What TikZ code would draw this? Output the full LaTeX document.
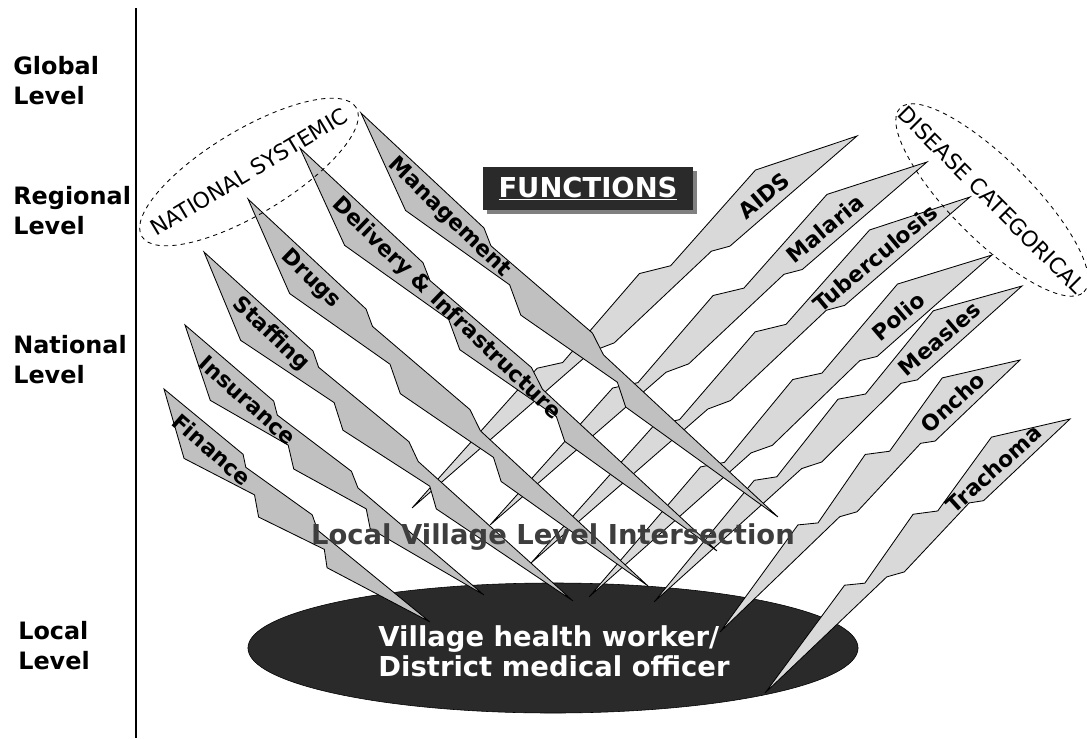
\documentclass[tikz,border=0pt]{standalone}
\usepackage{fontspec}
\setmainfont{DejaVu Sans}
\usepackage{tikz}
\usetikzlibrary{shapes,shadows}
\definecolor{hwfunc}{RGB}{192,192,192}
\definecolor{hwdisease}{RGB}{217,217,217}
\definecolor{hwdark}{RGB}{42,42,42}
\definecolor{hwtext}{RGB}{62,62,62}
\definecolor{hwshadow}{RGB}{128,128,128}
\tikzstyle{spikeline} = [draw=black, line width=0.6pt]
\tikzstyle{spikelabel} = [inner sep=0pt, font=\fontsize{15.5}{18}\selectfont\bfseries]
\tikzstyle{levellabel} = [anchor=west, align=left, inner sep=0pt, font=\fontsize{17}{21.3}\selectfont\bfseries]
\tikzstyle{groupring} = [draw=black, dashed, line width=0.6pt]
\tikzstyle{grouptext} = [inner sep=0pt, font=\fontsize{15.5}{18}\selectfont]

% tapering spike from #1 to #2, fill #3, text #4 at #5 px along, text turned by #6
\newcommand{\spike}[6]{%
  \pgfpointdiff{\pgfpointanchor{#1}{center}}{\pgfpointanchor{#2}{center}}%
  \pgfgetlastxy{\spdx}{\spdy}%
  \pgfmathsetmacro{\spang}{atan2(\spdy,\spdx)}%
  \pgfmathsetmacro{\splen}{veclen(\spdx,\spdy)/0.71132}%
  \begin{scope}[shift={(#1)}, rotate=\spang]
    \filldraw[spikeline, fill=#3] (0,0) -- ({0.29*\splen},-3) -- ({0.32*\splen},5)
      -- ({0.55*\splen},-3) -- ({0.59*\splen},5) -- (\splen,0)
      -- ({0.68*\splen},27) -- ({0.64*\splen},15) -- ({0.44*\splen},34)
      -- ({0.39*\splen},20) -- ({0.172*\splen},39) -- cycle;
    \node[spikelabel, rotate=\spang+#6] (#1-text) at (#5,14) {#4};
  \end{scope}}

\begin{document}
\begin{tikzpicture}[x=0.025cm, y=-0.025cm]
\useasboundingbox (0,0) rectangle (1087,738);

% levels
\draw[line width=1pt] (136,8) -- (136,738);
\node[levellabel] (global) at (13,81) {Global\\Level};
\node[levellabel] (regional) at (13,211) {Regional\\Level};
\node[levellabel] (national) at (13,360) {National\\Level};
\node[levellabel] (local) at (18,646) {Local\\Level};

% village oval
\node[ellipse, draw=black, fill=hwdark, minimum width=15.25cm, minimum height=3.25cm] (village) at (553,648) {};

% spike ends
\coordinate (aidsT) at (857,136);  \coordinate (aidsB) at (412,508);
\coordinate (malT) at (927,162);   \coordinate (malB) at (490,525);
\coordinate (tbT) at (970,197);    \coordinate (tbB) at (531,563);
\coordinate (polT) at (992,255);   \coordinate (polB) at (589,597);
\coordinate (measT) at (1022,286); \coordinate (measB) at (654,602);
\coordinate (onchT) at (1020,360); \coordinate (onchB) at (720,632);
\coordinate (trchT) at (1070,419); \coordinate (trchB) at (765,693);
\coordinate (finT) at (164,389);   \coordinate (finB) at (430,622);
\coordinate (insT) at (185,325);   \coordinate (insB) at (484,595);
\coordinate (stfT) at (204,252);   \coordinate (stfB) at (573,601);
\coordinate (drgT) at (248,199);   \coordinate (drgB) at (648,586);
\coordinate (dlvT) at (300,148);   \coordinate (dlvB) at (717,551);
\coordinate (mgtT) at (361,113);   \coordinate (mgtB) at (778,517);

% disease categorical
\spike{aidsT}{aidsB}{hwdisease}{AIDS}{110}{180}
\spike{malT}{malB}{hwdisease}{Malaria}{121}{180}
\spike{tbT}{tbB}{hwdisease}{Tuberculosis}{112}{180}
\spike{polT}{polB}{hwdisease}{Polio}{111}{180}
\spike{measT}{measB}{hwdisease}{Measles}{97}{180}
\spike{onchT}{onchB}{hwdisease}{Oncho}{78}{180}
\spike{trchT}{trchB}{hwdisease}{Trachoma}{90}{180}

% national systemic
\spike{finT}{finB}{hwfunc}{Finance}{76}{0}
\spike{insT}{insB}{hwfunc}{Insurance}{97}{0}
\spike{stfT}{stfB}{hwfunc}{Staffing}{105}{0}
\spike{drgT}{drgB}{hwfunc}{Drugs}{101}{0}
\spike{dlvT}{dlvB}{hwfunc}{Delivery \& Infrastructure}{217}{0}
\spike{mgtT}{mgtB}{hwfunc}{Management}{136}{0}

% group rings
\node[grouptext, rotate=31] (natsys) at (249,172) {NATIONAL SYSTEMIC};
\draw[groupring, rotate around={31:(natsys.center)}] (natsys.center) ellipse [x radius=3.125cm, y radius=1.05cm];
\node[grouptext, rotate=-45] (discat) at (992,200) {DISEASE CATEGORICAL};
\draw[groupring, rotate around={-45:(discat.center)}] (discat.center) ellipse [x radius=3.25cm, y radius=1cm];

% titles
\node[fill=hwdark, text=white, minimum width=5.25cm, minimum height=1.075cm,
  drop shadow={shadow xshift=0.09cm, shadow yshift=-0.09cm, fill=hwshadow, opacity=1},
  font=\fontsize{19.5}{22}\selectfont\bfseries] (functions) at (588,188.5) {\underline{FUNCTIONS}};
\node[text=hwtext, font=\fontsize{19.5}{22}\selectfont\bfseries] (intersect) at (553,537) {Local Village Level Intersection};
\node[text=white, align=left, font=\fontsize{19.5}{21.3}\selectfont\bfseries] (worker) at (554,651) {Village health worker/\\District medical officer};
\end{tikzpicture}
\end{document}
